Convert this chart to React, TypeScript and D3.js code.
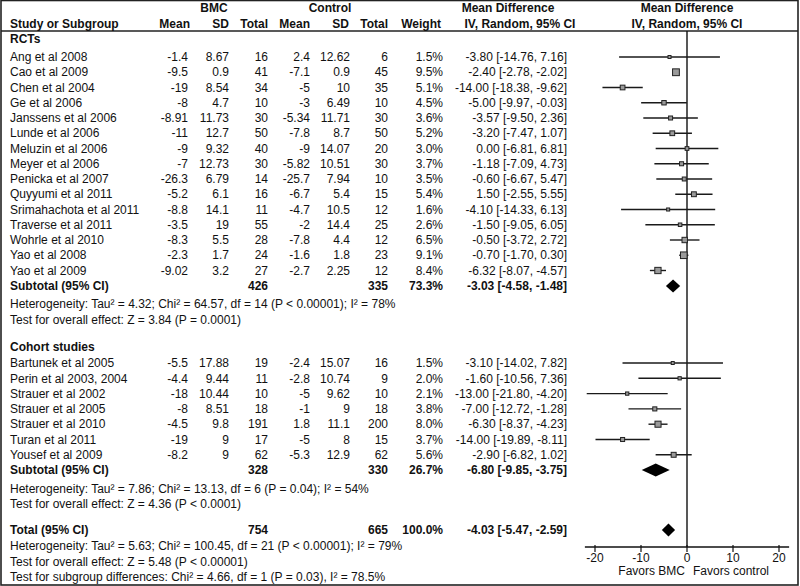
import React from "react";
import * as d3 from "d3";

const rctStudies = ["Ang et al 2008","Cao et al 2009","Chen et al 2004","Ge et al 2006","Janssens et al 2006","Lunde et al 2006","Meluzin et al 2006","Meyer et al 2006","Penicka et al 2007","Quyyumi et al 2011","Srimahachota et al 2011","Traverse et al 2011","Wohrle et al 2010","Yao et al 2008","Yao et al 2009"];
const rctBmcMean = ["-1.4","-9.5","-19","-8","-8.91","-11","-9","-7","-26.3","-5.2","-8.8","-3.5","-8.3","-2.3","-9.02"];
const rctBmcSD = ["8.67","0.9","8.54","4.7","11.73","12.7","9.32","12.73","6.79","6.1","14.1","19","5.5","1.7","3.2"];
const rctBmcN = ["16","41","34","10","30","50","40","30","14","16","11","55","28","24","27"];
const rctCtlMean = ["2.4","-7.1","-5","-3","-5.34","-7.8","-9","-5.82","-25.7","-6.7","-4.7","-2","-7.8","-1.6","-2.7"];
const rctCtlSD = ["12.62","0.9","10","6.49","11.71","8.7","14.07","10.51","7.94","5.4","10.5","14.4","4.4","1.8","2.25"];
const rctCtlN = ["6","45","35","10","30","50","20","30","10","15","12","25","12","23","12"];
const rctWeight = [1.5,9.5,5.1,4.5,3.6,5.2,3.0,3.7,3.5,5.4,1.6,2.6,6.5,9.1,8.4];
const rctMD = [-3.80,-2.40,-14.00,-5.00,-3.57,-3.20,0.00,-1.18,-0.60,1.50,-4.10,-1.50,-0.50,-0.70,-6.32];
const rctLo = [-14.76,-2.78,-18.38,-9.97,-9.50,-7.47,-6.81,-7.09,-6.67,-2.55,-14.33,-9.05,-3.72,-1.70,-8.07];
const rctHi = [7.16,-2.02,-9.62,-0.03,2.36,1.07,6.81,4.73,5.47,5.55,6.13,6.05,2.72,0.30,-4.57];

const cohStudies = ["Bartunek et al 2005","Perin et al 2003, 2004","Strauer et al 2002","Strauer et al 2005","Strauer et al 2010","Turan et al 2011","Yousef et al 2009"];
const cohBmcMean = ["-5.5","-4.4","-18","-8","-4.5","-19","-8.2"];
const cohBmcSD = ["17.88","9.44","10.44","8.51","9.8","9","9"];
const cohBmcN = ["19","11","10","18","191","17","62"];
const cohCtlMean = ["-2.4","-2.8","-5","-1","1.8","-5","-5.3"];
const cohCtlSD = ["15.07","10.74","9.62","9","11.1","8","12.9"];
const cohCtlN = ["16","9","10","18","200","15","62"];
const cohWeight = [1.5,2.0,2.1,3.8,8.0,3.7,5.6];
const cohMD = [-3.10,-1.60,-13.00,-7.00,-6.30,-14.00,-2.90];
const cohLo = [-14.02,-10.56,-21.80,-12.72,-8.37,-19.89,-6.82];
const cohHi = [7.82,7.36,-4.20,-1.28,-4.23,-8.11,1.02];

const pooledLabels = ["Subtotal (95% CI)", "Subtotal (95% CI)", "Total (95% CI)"];
const pooledBmcN = ["426", "328", "754"];
const pooledCtlN = ["335", "330", "665"];
const pooledWeight = ["73.3%", "26.7%", "100.0%"];
const pooledMD = [-3.03, -6.80, -4.03];
const pooledLo = [-4.58, -9.85, -5.47];
const pooledHi = [-1.48, -3.75, -2.59];

const axisTicks = [-20, -10, 0, 10, 20];

const fmt = (v: number) => v.toFixed(2);
const ciText = (m: number, l: number, h: number) => `${fmt(m)} [${fmt(l)}, ${fmt(h)}]`;

export default function App() {
  const W = 800, H = 586;
  const x = d3.scaleLinear().domain([-20, 20]).range([595, 779]);
  const font = "'Liberation Sans', Arial, sans-serif";
  const fs = 12;
  const col = { mean1: 188, sd1: 229, n1: 268, mean2: 310, sd2: 350, n2: 388, w: 443, ci: 567 };
  const size = d3.scaleLinear().domain([1.5, 9.5]).range([3, 6.8]);

  const rctY = (i: number) => 57 + 15.25 * i;
  const cohY = (i: number) => 363 + 15.3 * i;
  const pooledY = [286, 470, 530];

  const T = (p: any) => (
    <text fontFamily={font} fontSize={fs} fill="#111" dy="0.35em" {...p} />
  );

  const studyRows = (names: string[], bm: string[], bs: string[], bn: string[], cm: string[], cs: string[], cn: string[], w: number[], md: number[], lo: number[], hi: number[], yf: (i: number) => number) =>
    names.map((nm, i) => {
      const y = yf(i);
      const s = size(w[i]);
      return (
        <g key={nm}>
          <T x={10} y={y}>{nm}</T>
          <T x={col.mean1} y={y} textAnchor="end">{bm[i]}</T>
          <T x={col.sd1} y={y} textAnchor="end">{bs[i]}</T>
          <T x={col.n1} y={y} textAnchor="end">{bn[i]}</T>
          <T x={col.mean2} y={y} textAnchor="end">{cm[i]}</T>
          <T x={col.sd2} y={y} textAnchor="end">{cs[i]}</T>
          <T x={col.n2} y={y} textAnchor="end">{cn[i]}</T>
          <T x={col.w} y={y} textAnchor="end">{w[i].toFixed(1) + "%"}</T>
          <T x={col.ci} y={y} textAnchor="end">{ciText(md[i], lo[i], hi[i])}</T>
          <line x1={x(lo[i])} x2={x(hi[i])} y1={y} y2={y} stroke="#1a1a1a" strokeWidth={1.4} />
          <rect x={x(md[i]) - s / 2} y={y - s / 2} width={s} height={s} fill="#9a9a9a" stroke="#222" strokeWidth={1} />
        </g>
      );
    });

  const hetero = [
    { y: 304, t: "Heterogeneity: Tau² = 4.32; Chi² = 64.57, df = 14 (P < 0.00001); I² = 78%" },
    { y: 320, t: "Test for overall effect: Z = 3.84 (P = 0.0001)" },
    { y: 489, t: "Heterogeneity: Tau² = 7.86; Chi² = 13.13, df = 6 (P = 0.04); I² = 54%" },
    { y: 504, t: "Test for overall effect: Z = 4.36 (P < 0.0001)" },
    { y: 546, t: "Heterogeneity: Tau² = 5.63; Chi² = 100.45, df = 21 (P < 0.00001); I² = 79%" },
    { y: 562, t: "Test for overall effect: Z = 5.48 (P < 0.00001)" },
    { y: 577, t: "Test for subgroup differences: Chi² = 4.66, df = 1 (P = 0.03), I² = 78.5%" },
  ];

  const axisY = 547;

  return (
    <svg width={W} height={H} style={{ position: "absolute", left: 0, top: 0, background: "#fff" }}>
      <rect x={0} y={0} width={W} height={H} fill="#fff" />
      <rect x={1} y={0.5} width={797} height={584.5} fill="none" stroke="#222" strokeWidth={1.6} />
      <line x1={1} x2={798} y1={31} y2={31} stroke="#222" strokeWidth={1.3} />

      <g fontWeight="bold">
        <T x={214} y={8} textAnchor="middle">BMC</T>
        <T x={330} y={8} textAnchor="middle">Control</T>
        <T x={10} y={24}>Study or Subgroup</T>
        <T x={col.mean1 + 2} y={24} textAnchor="end">Mean</T>
        <T x={col.sd1} y={24} textAnchor="end">SD</T>
        <T x={col.n1} y={24} textAnchor="end">Total</T>
        <T x={col.mean2} y={24} textAnchor="end">Mean</T>
        <T x={col.sd2 - 1} y={24} textAnchor="end">SD</T>
        <T x={col.n2} y={24} textAnchor="end">Total</T>
        <T x={441} y={24} textAnchor="end">Weight</T>
        <T x={508} y={8} textAnchor="middle">Mean Difference</T>
        <T x={520} y={24} textAnchor="middle">IV, Random, 95% CI</T>
        <T x={x(0)} y={8} textAnchor="middle">Mean Difference</T>
        <T x={x(0)} y={24} textAnchor="middle">IV, Random, 95% CI</T>
        <T x={10} y={39}>RCTs</T>
        <T x={10} y={347}>Cohort studies</T>
      </g>

      <line x1={x(0)} x2={x(0)} y1={31} y2={axisY} stroke="#111" strokeWidth={1.4} />

      {studyRows(rctStudies, rctBmcMean, rctBmcSD, rctBmcN, rctCtlMean, rctCtlSD, rctCtlN, rctWeight, rctMD, rctLo, rctHi, rctY)}
      {studyRows(cohStudies, cohBmcMean, cohBmcSD, cohBmcN, cohCtlMean, cohCtlSD, cohCtlN, cohWeight, cohMD, cohLo, cohHi, cohY)}

      {pooledLabels.map((lab, i) => {
        const y = pooledY[i];
        const h = 6.5;
        const pts = [[x(pooledLo[i]), y], [x(pooledMD[i]), y - h], [x(pooledHi[i]), y], [x(pooledMD[i]), y + h]];
        return (
          <g key={i} fontWeight="bold">
            <T x={10} y={y}>{lab}</T>
            <T x={col.n1} y={y} textAnchor="end">{pooledBmcN[i]}</T>
            <T x={col.n2} y={y} textAnchor="end">{pooledCtlN[i]}</T>
            <T x={col.w} y={y} textAnchor="end">{pooledWeight[i]}</T>
            <T x={col.ci} y={y} textAnchor="end">{ciText(pooledMD[i], pooledLo[i], pooledHi[i])}</T>
            <polygon points={pts.map(p => p.join(",")).join(" ")} fill="#000" />
          </g>
        );
      })}

      {hetero.map((h, i) => (
        <T key={i} x={10} y={h.y}>{h.t}</T>
      ))}

      <line x1={x(-22.2)} x2={x(22.2)} y1={axisY} y2={axisY} stroke="#111" strokeWidth={1.4} />
      {axisTicks.map(t => (
        <g key={t}>
          <line x1={x(t)} x2={x(t)} y1={axisY - 2} y2={axisY + 5} stroke="#111" strokeWidth={1.2} />
          <T x={x(t)} y={558} textAnchor="middle">{String(t)}</T>
        </g>
      ))}
      <T x={x(0) - 2} y={571} textAnchor="end">Favors BMC</T>
      <T x={x(0) + 6} y={571}>Favors control</T>
    </svg>
  );
}
